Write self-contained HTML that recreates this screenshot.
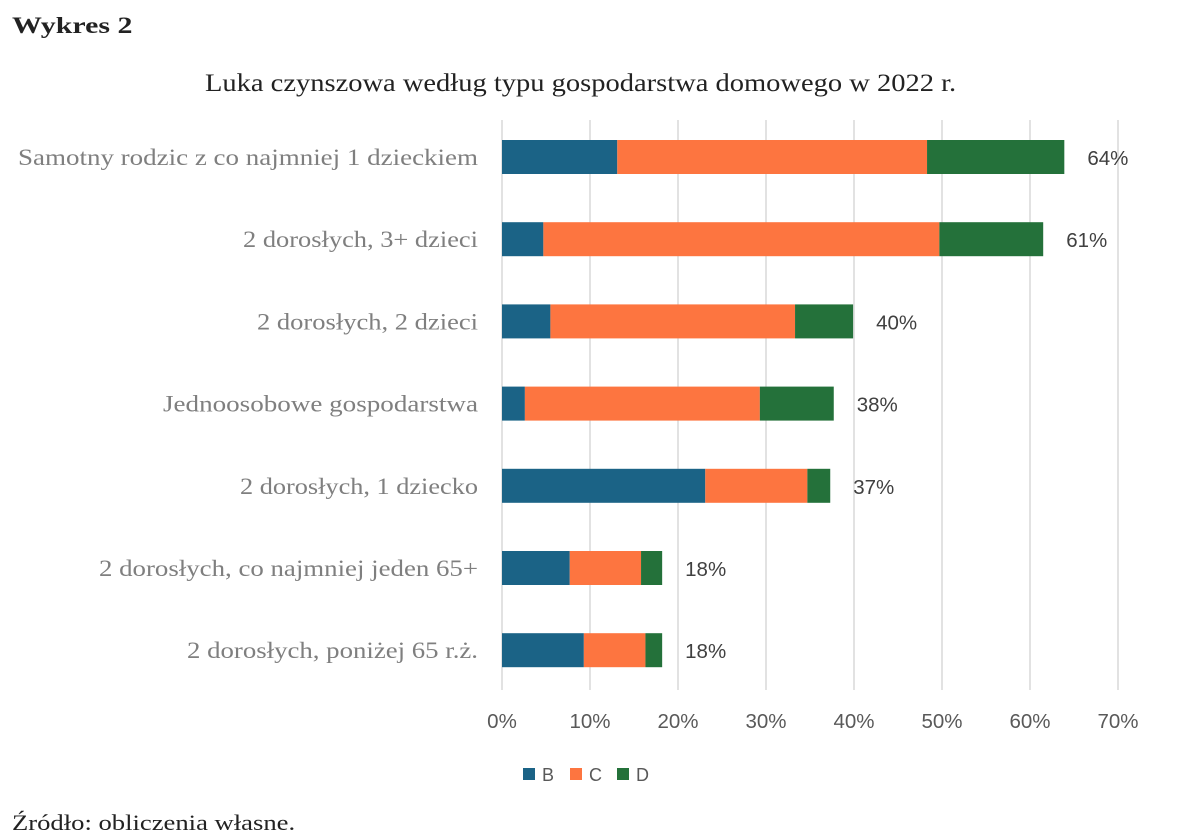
<!DOCTYPE html>
<html><head><meta charset="utf-8"><style>
body{margin:0;background:#fff;width:1199px;height:840px;overflow:hidden;position:relative}
.t{position:absolute;font-family:"Liberation Serif",serif;white-space:nowrap;transform-origin:0 0}
</style></head><body>
<div class="t" style="left:12px;top:13px;font-size:23px;font-weight:bold;color:#222;transform:scaleX(1.3)">Wykres 2</div>
<div class="t" style="left:205px;top:70px;font-size:25px;color:#222;transform:scaleX(1.14)">Luka czynszowa według typu gospodarstwa domowego w 2022 r.</div>
<svg id="c" width="1199" height="800" style="position:absolute;left:0;top:0"></svg>
<div class="t" style="left:12px;top:810px;font-size:22px;color:#222;transform:scaleX(1.21)">Źródło: obliczenia własne.</div>
<script>
const categories=["Samotny rodzic z co najmniej 1 dzieckiem","2 dorosłych, 3+ dzieci","2 dorosłych, 2 dzieci","Jednoosobowe gospodarstwa","2 dorosłych, 1 dziecko","2 dorosłych, co najmniej jeden 65+","2 dorosłych, poniżej 65 r.ż."];
const seriesB=[13.1,4.7,5.5,2.6,23.1,7.7,9.3];
const seriesC=[35.2,45.0,27.8,26.7,11.6,8.1,7.0];
const seriesD=[15.6,11.8,6.6,8.4,2.6,2.4,1.9];
const totalLabels=["64%","61%","40%","38%","37%","18%","18%"];
const ticks=[0,10,20,30,40,50,60,70];
const labelLeft=[18,243,257,163,240,99,187];
const NS="http://www.w3.org/2000/svg",svg=document.getElementById('c');
const x=v=>502+v*8.8, y=i=>157+i*82.2;
function mk(t,a){const e=document.createElementNS(NS,t);for(const k in a)e.setAttribute(k,a[k]);svg.appendChild(e);return e;}
ticks.forEach(v=>{
 const l=mk('line',{x1:x(v),x2:x(v),y1:120,y2:690,stroke:'#d9d9d9','stroke-width':1.5});
 
 
 const t=mk('text',{x:x(v),y:728,'text-anchor':'middle','font-family':'Liberation Sans, sans-serif','font-size':20.5,fill:'#595959'});
 t.textContent=v+'%';
 
 
});
const cols=['#1b6386','#fd7540','#24713a'];
categories.forEach((c,i)=>{
 const t=mk('text',{x:labelLeft[i],y:y(i)+8,textLength:478-labelLeft[i],lengthAdjust:'spacingAndGlyphs','font-family':'Liberation Serif, serif','font-size':23,fill:'#7f7f7f'});
 t.textContent=c;
 
 
 let s=0;
 [seriesB[i],seriesC[i],seriesD[i]].forEach((v,k)=>{
  const r=mk('rect',{x:x(s),y:y(i)-17,width:x(s+v)-x(s),height:34,fill:cols[k]});
  
  
  s+=v;
 });
 const lb=mk('text',{x:x(s)+23,y:y(i)+8,'font-family':'Liberation Sans, sans-serif','font-size':20.5,fill:'#404040'});
 lb.textContent=totalLabels[i];
 
 
});
['B','C','D'].forEach((n,k)=>{
 const bx=523+k*47;
 const r=mk('rect',{x:bx,y:768,width:12,height:12,fill:cols[k]});
 
 
 const t=mk('text',{x:bx+19,y:781,'font-family':'Liberation Sans, sans-serif','font-size':18,fill:'#595959'});
 t.textContent=n;
 
 
});
</script>
</body></html>
